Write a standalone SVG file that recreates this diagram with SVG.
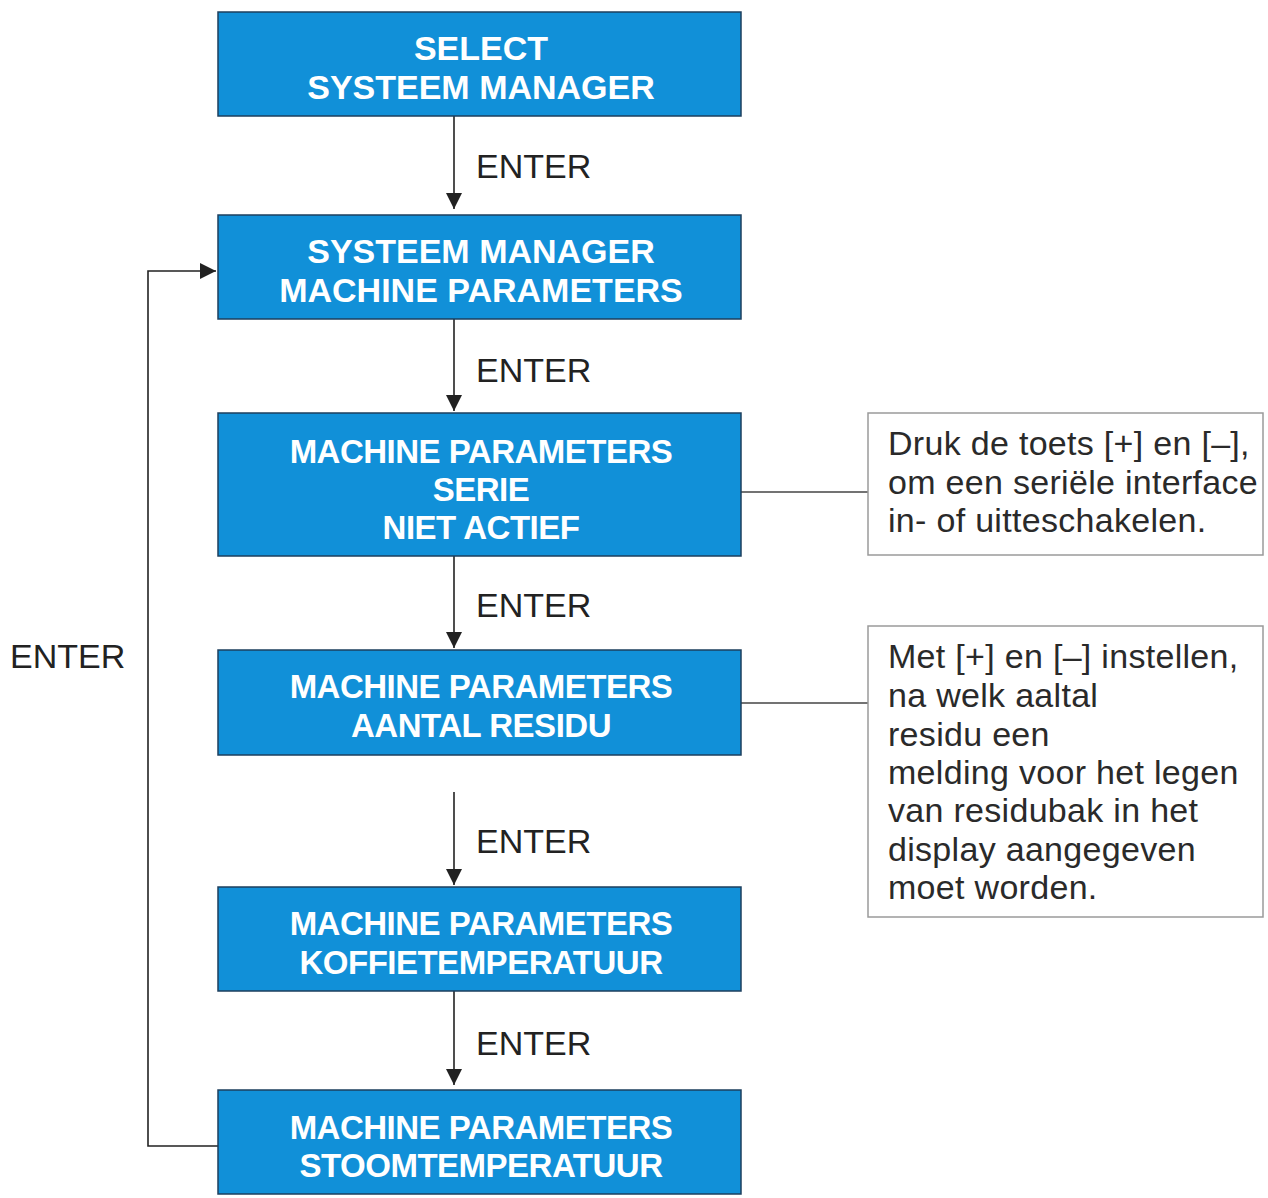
<svg xmlns="http://www.w3.org/2000/svg" width="1268" height="1198" viewBox="0 0 1268 1198">
<style>
.box{fill:#1190d8;stroke:#1d3f5e;stroke-width:1.5}
.bt{font-family:"Liberation Sans",Arial,sans-serif;font-weight:bold;fill:#ffffff;text-anchor:middle}
.b1{font-size:34px}
.b2{font-size:33px;letter-spacing:-0.5px}
.lbl{font-family:"Liberation Sans",Arial,sans-serif;font-size:34px;fill:#222}
.note{fill:#ffffff;stroke:#9a9a9a;stroke-width:1.5}
.nt{font-family:"Liberation Sans",Arial,sans-serif;font-size:34px;letter-spacing:0.3px;fill:#2a2a2a}
.ln{fill:none;stroke:#222;stroke-width:1.6}
.sl{fill:none;stroke:#444;stroke-width:1.4}
</style>
<defs>
<marker id="ah" markerWidth="16" markerHeight="16" viewBox="0 0 16 16" refX="16" refY="8" orient="auto" markerUnits="userSpaceOnUse">
<path d="M0,0 L16,8 L0,16 Z" fill="#222"/>
</marker>
</defs>
<rect width="1268" height="1198" fill="#ffffff"/>
<g id="connectors">
<line class="ln" x1="454" y1="116" x2="454" y2="209" marker-end="url(#ah)"/>
<line class="ln" x1="454" y1="319" x2="454" y2="411" marker-end="url(#ah)"/>
<line class="ln" x1="454" y1="556" x2="454" y2="648" marker-end="url(#ah)"/>
<line class="ln" x1="454" y1="792" x2="454" y2="885" marker-end="url(#ah)"/>
<line class="ln" x1="454" y1="991" x2="454" y2="1085" marker-end="url(#ah)"/>
<polyline class="ln" points="218,1146 148,1146 148,271 216,271" marker-end="url(#ah)"/>
<line class="sl" x1="741" y1="492" x2="868" y2="492"/>
<line class="sl" x1="741" y1="703" x2="868" y2="703"/>
<text class="lbl" x="476" y="178">ENTER</text>
<text class="lbl" x="476" y="382">ENTER</text>
<text class="lbl" x="476" y="617">ENTER</text>
<text class="lbl" x="476" y="853">ENTER</text>
<text class="lbl" x="476" y="1055">ENTER</text>
<text class="lbl" x="10" y="668">ENTER</text>
</g>
<g id="n1">
<rect class="box" x="218" y="12" width="523" height="104"/>
<text class="bt b1" x="481" y="60">SELECT</text>
<text class="bt b1" x="481" y="99">SYSTEEM MANAGER</text>
</g>
<g id="n2">
<rect class="box" x="218" y="215" width="523" height="104"/>
<text class="bt b1" x="481" y="263">SYSTEEM MANAGER</text>
<text class="bt b1" x="481" y="302">MACHINE PARAMETERS</text>
</g>
<g id="n3">
<rect class="box" x="218" y="413" width="523" height="143"/>
<text class="bt b2" x="481" y="463">MACHINE PARAMETERS</text>
<text class="bt b2" x="481" y="501">SERIE</text>
<text class="bt b2" x="481" y="539">NIET ACTIEF</text>
</g>
<g id="n4">
<rect class="box" x="218" y="650" width="523" height="105"/>
<text class="bt b2" x="481" y="698">MACHINE PARAMETERS</text>
<text class="bt b2" x="481" y="737">AANTAL RESIDU</text>
</g>
<g id="n5">
<rect class="box" x="218" y="887" width="523" height="104"/>
<text class="bt b2" x="481" y="935">MACHINE PARAMETERS</text>
<text class="bt b2" x="481" y="974">KOFFIETEMPERATUUR</text>
</g>
<g id="n6">
<rect class="box" x="218" y="1090" width="523" height="104"/>
<text class="bt b2" x="481" y="1139">MACHINE PARAMETERS</text>
<text class="bt b2" x="481" y="1177">STOOMTEMPERATUUR</text>
</g>
<g id="note1">
<rect class="note" x="868" y="413" width="395" height="142"/>
<text class="nt" x="888" y="455">Druk de toets [+] en [–],</text>
<text class="nt" x="888" y="494">om een seriële interface</text>
<text class="nt" x="888" y="532">in- of uitteschakelen.</text>
</g>
<g id="note2">
<rect class="note" x="868" y="626" width="395" height="291"/>
<text class="nt" x="888" y="668">Met [+] en [–] instellen,</text>
<text class="nt" x="888" y="707">na welk aaltal</text>
<text class="nt" x="888" y="746">residu een</text>
<text class="nt" x="888" y="784">melding voor het legen</text>
<text class="nt" x="888" y="822">van residubak in het</text>
<text class="nt" x="888" y="861">display aangegeven</text>
<text class="nt" x="888" y="899">moet worden.</text>
</g>
</svg>
